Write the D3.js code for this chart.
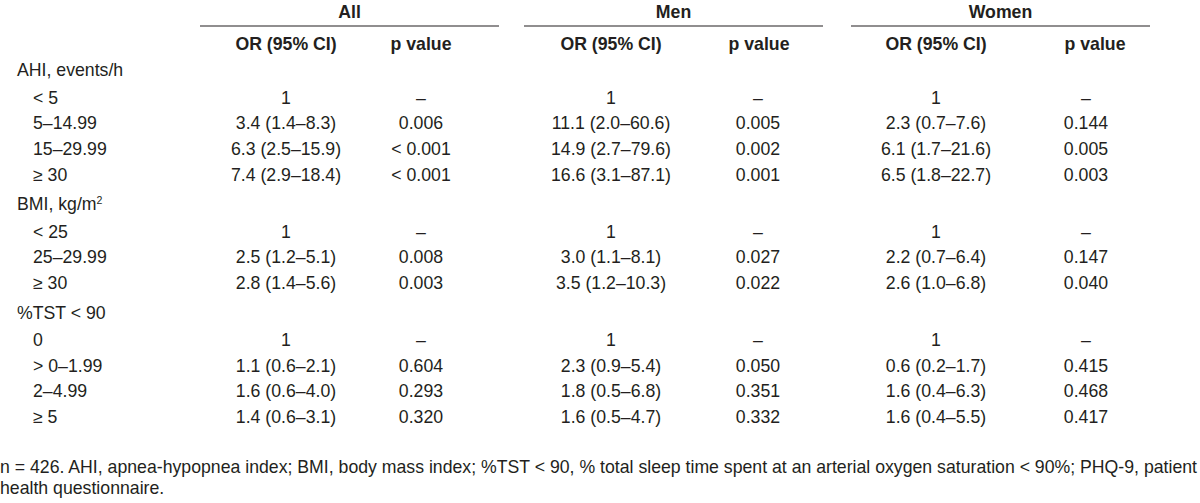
<!DOCTYPE html>
<html>
<head>
<meta charset="utf-8">
<script src="https://cdn.jsdelivr.net/npm/d3@7"></script>
<style>
  html, body { margin: 0; padding: 0; background: #fff; }
  svg text { font-family: "Liberation Sans", Arial, sans-serif; fill: #231f20; }
</style>
</head>
<body>
<svg id="chart" width="1200" height="503"></svg>
<script>
// ---------- data ----------
const groups = ["All", "Men", "Women"];
const subHeaders = ["OR (95% CI)", "p value"];
const sections = ["AHI, events/h", "BMI, kg/m2", "%TST < 90"];
const rowLabels = [
  ["< 5", "5–14.99", "15–29.99", "≥ 30"],
  ["< 25", "25–29.99", "≥ 30"],
  ["0", "> 0–1.99", "2–4.99", "≥ 5"]
];
const orAll = ["1", "3.4 (1.4–8.3)", "6.3 (2.5–15.9)", "7.4 (2.9–18.4)", "1", "2.5 (1.2–5.1)", "2.8 (1.4–5.6)", "1", "1.1 (0.6–2.1)", "1.6 (0.6–4.0)", "1.4 (0.6–3.1)"];
const pAll = ["–", "0.006", "< 0.001", "< 0.001", "–", "0.008", "0.003", "–", "0.604", "0.293", "0.320"];
const orMen = ["1", "11.1 (2.0–60.6)", "14.9 (2.7–79.6)", "16.6 (3.1–87.1)", "1", "3.0 (1.1–8.1)", "3.5 (1.2–10.3)", "1", "2.3 (0.9–5.4)", "1.8 (0.5–6.8)", "1.6 (0.5–4.7)"];
const pMen = ["–", "0.005", "0.002", "0.001", "–", "0.027", "0.022", "–", "0.050", "0.351", "0.332"];
const orWomen = ["1", "2.3 (0.7–7.6)", "6.1 (1.7–21.6)", "6.5 (1.8–22.7)", "1", "2.2 (0.7–6.4)", "2.6 (1.0–6.8)", "1", "0.6 (0.2–1.7)", "1.6 (0.4–6.3)", "1.6 (0.4–5.5)"];
const pWomen = ["–", "0.144", "0.005", "0.003", "–", "0.147", "0.040", "–", "0.415", "0.468", "0.417"];
const footnote = [
  "n = 426. AHI, apnea-hypopnea index; BMI, body mass index; %TST < 90, % total sleep time spent at an arterial oxygen saturation < 90%; PHQ-9, patient",
  "health questionnaire."
];

// ---------- layout ----------
const svg = d3.select("#chart");
const FS = 17.7;
const INK = "#231f20";

const rows = [];
let dataIdx = 0;
sections.forEach((s, si) => {
  rows.push({ type: "section", label: s, si });
  rowLabels[si].forEach(l => { rows.push({ type: "item", label: l, si, di: dataIdx++ }); });
});

const yIdx = d3.scaleLinear().domain([0, 1]).range([70, 95.6]);
const gapBefore = 4, gapAfter = 2;
let extra = 0;
rows.forEach((r, i) => {
  if (r.type === "section" && i > 0) extra += gapBefore;
  r.y = yIdx(i) + extra;
  if (r.type === "section") extra += gapAfter;
});

// column geometry
const groupX = d3.scaleOrdinal().domain(groups).range([200, 524, 851]);
const groupW = 299;
const orOff = { All: 86, Men: 87, Women: 85 };
const pOff = { All: 221, Men: 234, Women: 235 };
const pHeadOff = { All: 221, Men: 235, Women: 244 };
const colData = { All: [orAll, pAll], Men: [orMen, pMen], Women: [orWomen, pWomen] };

groups.forEach(g => {
  const x0 = groupX(g);
  svg.append("text").attr("x", x0 + groupW / 2).attr("y", 12).attr("dy", "0.35em")
    .attr("text-anchor", "middle").attr("font-weight", "bold").attr("font-size", FS).text(g);
  svg.append("line").attr("x1", x0).attr("x2", x0 + groupW).attr("y1", 26).attr("y2", 26)
    .attr("stroke", INK).attr("stroke-width", 1.2);
  svg.append("text").attr("x", x0 + orOff[g]).attr("y", 44).attr("dy", "0.35em")
    .attr("text-anchor", "middle").attr("font-weight", "bold").attr("font-size", FS).text(subHeaders[0]);
  svg.append("text").attr("x", x0 + pHeadOff[g]).attr("y", 44).attr("dy", "0.35em")
    .attr("text-anchor", "middle").attr("font-weight", "bold").attr("font-size", FS).text(subHeaders[1]);
});

rows.forEach(r => {
  const t = svg.append("text").attr("x", r.type === "section" ? 17 : 33).attr("y", r.y)
    .attr("dy", "0.35em").attr("font-size", FS);
  if (r.label === "BMI, kg/m2") {
    t.append("tspan").text("BMI, kg/m");
    t.append("tspan").attr("font-size", FS * 0.6).attr("dy", "-0.6em").text("2");
  } else {
    t.text(r.label);
  }
});

rows.filter(r => r.type === "item").forEach(r => {
  groups.forEach(g => {
    const x0 = groupX(g);
    const [orArr, pArr] = colData[g];
    svg.append("text").attr("x", x0 + orOff[g]).attr("y", r.y).attr("dy", "0.35em")
      .attr("text-anchor", "middle").attr("font-size", FS).text(orArr[r.di]);
    svg.append("text").attr("x", x0 + pOff[g]).attr("y", r.y).attr("dy", "0.35em")
      .attr("text-anchor", "middle").attr("font-size", FS).text(pArr[r.di]);
  });
});

footnote.forEach((f, i) => {
  const t = svg.append("text").attr("x", 0).attr("y", 467 + i * 20.5).attr("dy", "0.35em")
    .attr("font-size", FS).text(f);
  const w = t.node().getComputedTextLength();
  if (w > 1197) t.attr("textLength", 1197).attr("lengthAdjust", "spacingAndGlyphs");
});
</script>
</body>
</html>
